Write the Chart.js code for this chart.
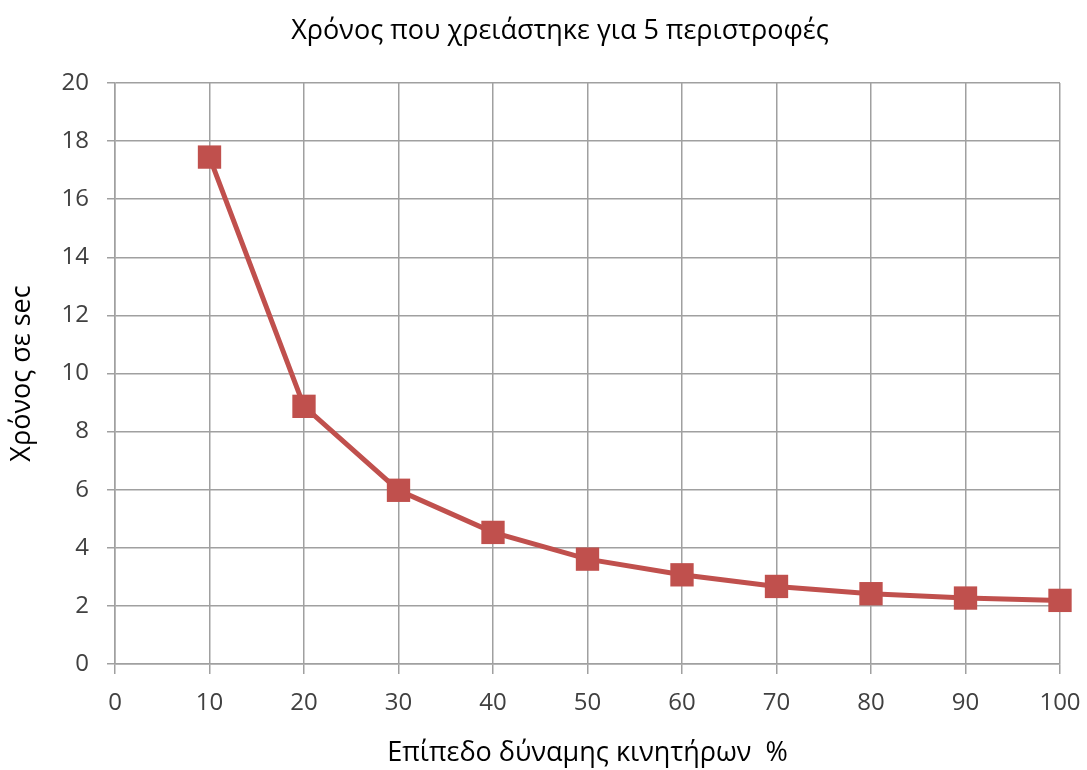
<!DOCTYPE html>
<html>
<head>
<meta charset="utf-8">
<script src="https://cdn.jsdelivr.net/npm/chart.js@4.4.1/dist/chart.umd.min.js"></script>
<style>
  html, body { margin: 0; padding: 0; background: #ffffff; }
  #wrap { width: 1087px; height: 770px; }
</style>
</head>
<body>
<div id="wrap"><canvas id="c"></canvas></div>
<script>
// Motor power level (%) and time needed for 5 rotations (s)
const powerLevels = [10, 20, 30, 40, 50, 60, 70, 80, 90, 100];
const rotationTimes = [17.45, 8.87, 5.98, 4.53, 3.61, 3.07, 2.67, 2.42, 2.27, 2.19];

const chartTitle = 'Χρόνος που χρειάστηκε για 5 περιστροφές';
const xAxisTitle = 'Επίπεδο δύναμης κινητήρων  %';
const yAxisTitle = 'Χρόνος σε sec';

const FONT = '"Open Sans", "Noto Sans", sans-serif';
const GRID = '#a0a0a0';
const RED = '#c0504d';

const points = powerLevels.map((x, i) => ({ x: x, y: rotationTimes[i] }));

// Heading centred over the whole figure rather than the plot box
const headingPlugin = {
  id: 'heading',
  afterDraw(chart) {
    const ctx = chart.ctx;
    ctx.save();
    ctx.font = '27px ' + FONT;
    ctx.fillStyle = '#000000';
    ctx.textAlign = 'center';
    ctx.textBaseline = 'middle';
    ctx.fillText(chartTitle, 560, 31);
    ctx.restore();
  }
};

new Chart(document.getElementById('c'), {
  type: 'line',
  data: {
    datasets: [{
      data: points,
      borderColor: RED,
      backgroundColor: RED,
      borderWidth: 5,
      pointStyle: 'rect',
      pointRadius: 16.5,
      pointHoverRadius: 16.5,
      pointBorderWidth: 0,
      tension: 0,
      clip: false
    }]
  },
  plugins: [headingPlugin],
  options: {
    responsive: true,
    maintainAspectRatio: false,
    animation: false,
    layout: { padding: { left: 0, right: 27, top: 83, bottom: 0 } },
    plugins: {
      legend: { display: false },
      tooltip: { enabled: false },
      title: { display: false }
    },
    scales: {
      x: {
        type: 'linear',
        min: 0,
        max: 100,
        afterFit: s => { s.height = 106; s.paddingRight = 0; },
        ticks: {
          stepSize: 10,
          color: '#404040',
          font: { family: FONT, size: 24 },
          padding: 15
        },
        grid: {
          color: GRID,
          lineWidth: 1.5,
          tickLength: 10,
          tickColor: GRID
        },
        border: { color: GRID, width: 1.5 },
        title: {
          display: true,
          text: xAxisTitle,
          color: '#000000',
          font: { family: FONT, size: 27 },
          padding: { top: 18, bottom: 0 }
        }
      },
      y: {
        min: 0,
        max: 20,
        afterFit: s => { s.width = 115; },
        ticks: {
          stepSize: 2,
          color: '#404040',
          font: { family: FONT, size: 24 },
          padding: 18
        },
        grid: {
          color: GRID,
          lineWidth: 1.5,
          tickLength: 8,
          tickColor: GRID
        },
        border: { color: GRID, width: 1.5 },
        title: {
          display: true,
          text: yAxisTitle,
          color: '#000000',
          font: { family: FONT, size: 27 },
          padding: { top: 6, bottom: 0 }
        }
      }
    }
  }
});
</script>
</body>
</html>
